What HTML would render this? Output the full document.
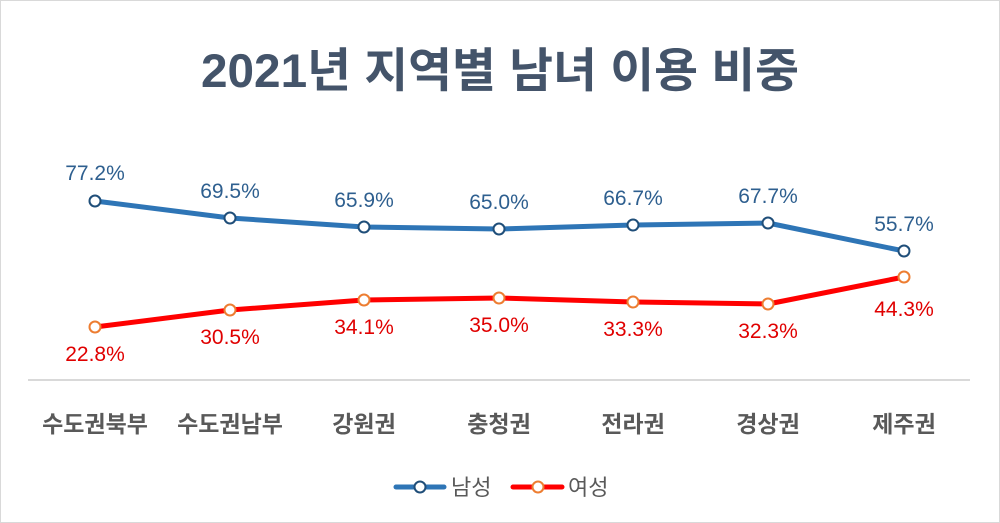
<!DOCTYPE html>
<html><head><meta charset="utf-8"><style>
html,body{margin:0;padding:0;background:#fff}
svg{display:block}
text{font-family:"Liberation Sans","Noto Sans CJK KR",sans-serif}
</style></head><body>
<svg width="1000" height="523" viewBox="0 0 1000 523">
<rect x="0.5" y="0.5" width="999" height="522" fill="#fff" stroke="#d9d9d9"/>
<text x="500" y="87" text-anchor="middle" font-size="47" font-weight="bold" fill="#44546a" textLength="598" lengthAdjust="spacingAndGlyphs">2021년 지역별 남녀 이용 비중</text>
<line x1="28" y1="380" x2="970" y2="380" stroke="#d9d9d9" stroke-width="2"/>
<g font-size="23" fill="#595959" text-anchor="middle" font-weight="bold">
<text x="95" y="432">수도권북부</text><text x="230" y="432">수도권남부</text><text x="364" y="432">강원권</text><text x="499" y="432">충청권</text><text x="633" y="432">전라권</text><text x="768" y="432">경상권</text><text x="904" y="432">제주권</text>
</g>
<polyline points="95,201 230,218 364,227 499,229 633,225 768,223 904,251" fill="none" stroke="#2e75b6" stroke-width="5" stroke-linejoin="round"/>
<polyline points="95,327 230,310 364,300 499,298 633,302 768,304 904,277" fill="none" stroke="#ff0000" stroke-width="5" stroke-linejoin="round"/>
<g fill="#fff" stroke="#1f4e79" stroke-width="2">
<circle cx="95" cy="201" r="5.5"/><circle cx="230" cy="218" r="5.5"/><circle cx="364" cy="227" r="5.5"/><circle cx="499" cy="229" r="5.5"/><circle cx="633" cy="225" r="5.5"/><circle cx="768" cy="223" r="5.5"/><circle cx="904" cy="251" r="5.5"/>
</g>
<g fill="#fff" stroke="#ed7d31" stroke-width="2">
<circle cx="95" cy="327" r="5.5"/><circle cx="230" cy="310" r="5.5"/><circle cx="364" cy="300" r="5.5"/><circle cx="499" cy="298" r="5.5"/><circle cx="633" cy="302" r="5.5"/><circle cx="768" cy="304" r="5.5"/><circle cx="904" cy="277" r="5.5"/>
</g>
<g font-size="21" fill="#2e5f8f" text-anchor="middle">
<text x="95" y="180">77.2%</text><text x="230" y="198">69.5%</text><text x="364" y="207">65.9%</text><text x="499" y="209">65.0%</text><text x="633" y="205">66.7%</text><text x="768" y="203">67.7%</text><text x="904" y="231">55.7%</text>
</g>
<g font-size="21" fill="#e00000" text-anchor="middle">
<text x="95" y="361">22.8%</text><text x="230" y="344">30.5%</text><text x="364" y="334">34.1%</text><text x="499" y="332">35.0%</text><text x="633" y="336">33.3%</text><text x="768" y="338">32.3%</text><text x="904" y="316">44.3%</text>
</g>
<line x1="396" y1="487" x2="444" y2="487" stroke="#2e75b6" stroke-width="5" stroke-linecap="round"/>
<circle cx="420" cy="487" r="5.5" fill="#fff" stroke="#1f4e79" stroke-width="2"/>
<text x="451" y="495" font-size="22" fill="#595959">남성</text>
<line x1="513" y1="487" x2="562" y2="487" stroke="#ff0000" stroke-width="5" stroke-linecap="round"/>
<circle cx="538" cy="487" r="5.5" fill="#fff" stroke="#ed7d31" stroke-width="2"/>
<text x="568" y="495" font-size="22" fill="#595959">여성</text>
</svg>
</body></html>
